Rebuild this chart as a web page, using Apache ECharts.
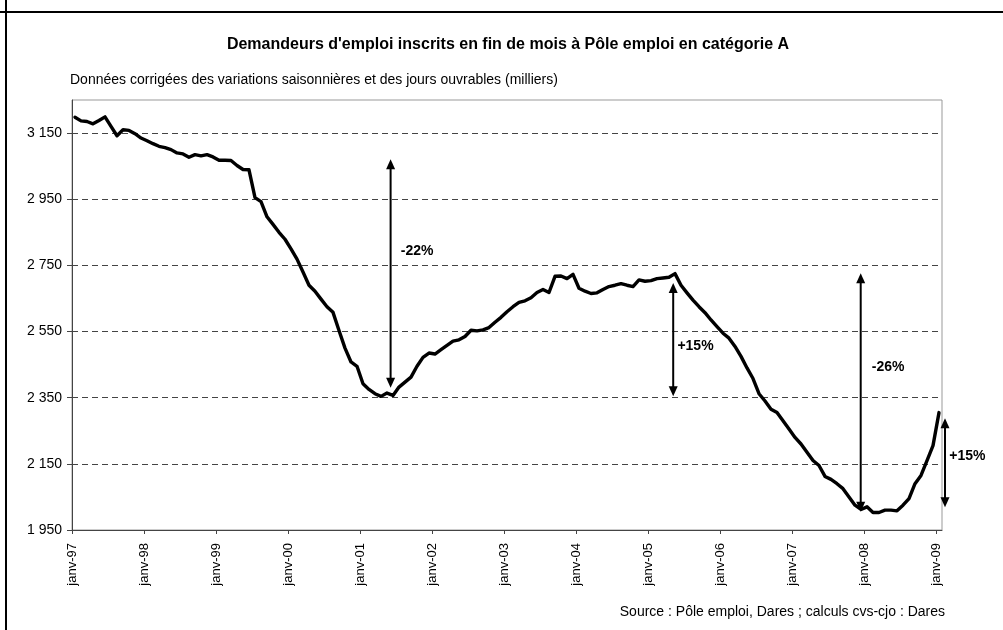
<!DOCTYPE html>
<html>
<head>
<meta charset="utf-8">
<script src="https://cdn.jsdelivr.net/npm/echarts@6/dist/echarts.min.js"></script>
<style>
html,body{margin:0;padding:0;background:#fff;}
#chart{width:1003px;height:630px;}
</style>
</head>
<body>
<div id="chart"></div>
<script>
// Monthly values, Jan 1997 .. Jan 2009 (thousands)
const values = [
  3198, 3187, 3185, 3178, 3188, 3199, 3170, 3142, 3160, 3158, 3148, 3135,
  3127, 3118, 3110, 3106, 3100, 3090, 3087, 3077, 3085, 3081, 3085, 3078,
  3068, 3068, 3067, 3052, 3040, 3039, 2955, 2943, 2897, 2874, 2850, 2829,
  2800, 2769, 2730, 2690, 2672, 2648, 2625, 2608, 2553, 2500, 2458, 2445,
  2392, 2375, 2362, 2354, 2364, 2357, 2382, 2397, 2412, 2445, 2472, 2485,
  2482, 2495, 2508, 2521, 2525, 2535, 2554, 2552, 2555, 2562, 2578, 2593,
  2610, 2625, 2638, 2643, 2652, 2668, 2677, 2668, 2717, 2718, 2710, 2723,
  2681, 2672, 2665, 2667, 2677, 2686, 2690, 2695, 2690, 2686, 2706, 2702,
  2704, 2710, 2712, 2714, 2725, 2690, 2667, 2645, 2625, 2607, 2585, 2565,
  2545, 2530, 2505, 2475, 2440, 2408, 2362, 2340, 2315, 2305, 2280, 2255,
  2230, 2210, 2185, 2160, 2145, 2112, 2103, 2090, 2075, 2050, 2025, 2012,
  2020, 2003, 2003, 2010, 2010, 2008, 2025, 2045, 2090, 2115, 2160, 2205,
  2305
];
const xTickMonths = [0, 12, 24, 36, 48, 60, 72, 84, 96, 108, 120, 132, 144];
const xTickLabels = ['janv-97','janv-98','janv-99','janv-00','janv-01','janv-02','janv-03',
                     'janv-04','janv-05','janv-06','janv-07','janv-08','janv-09'];
const yTickValues = [1950, 2150, 2350, 2550, 2750, 2950, 3150];
const yTickLabels = ['1 950','2 150','2 350','2 550','2 750','2 950','3 150'];

// Double arrows (axis position in months, lower tip, upper tip) and their labels
const arrowMonths = [53.1, 100.2, 131.45, 145.5];
const arrowLow    = [2380, 2354, 2005, 2019];
const arrowHigh   = [3071, 2697, 2726, 2288];
const noteTexts   = ['-22%', '+15%', '-26%', '+15%'];
const noteMonths  = [54.8, 100.9, 133.3, 146.2];
const noteValues  = [2792, 2505, 2443, 2174];

const FONT = '"Liberation Sans", Arial, sans-serif';
const chart = echarts.init(document.getElementById('chart'), null, {renderer:'canvas'});

const option = {
  animation: false,
  backgroundColor: '#fff',
  textStyle: {fontFamily: FONT},
  title: [
    {text: "Demandeurs d'emploi inscrits en fin de mois à Pôle emploi en catégorie A",
     left: 503, top: 32, textAlign: 'center',
     textStyle: {fontFamily: FONT, fontSize: 16, fontWeight: 'bold', color: '#000'}},
    {text: 'Données corrigées des variations saisonnières et des jours ouvrables (milliers)',
     left: 65, top: 68,
     textStyle: {fontFamily: FONT, fontSize: 14, fontWeight: 'normal', color: '#000'}},
    {text: 'Source : Pôle emploi, Dares ; calculs cvs-cjo : Dares',
     right: 53, top: 600,
     textStyle: {fontFamily: FONT, fontSize: 14, fontWeight: 'normal', color: '#000'}}
  ],
  grid: {left: 72, right: 61, top: 100, bottom: 100, show: true,
         borderColor: '#999', borderWidth: 1, backgroundColor: '#fff'},
  xAxis: {
    type: 'value', min: 0, max: 145,
    axisLine: {show: true, lineStyle: {color: '#444', width: 1}},
    axisTick: {show: true, length: 4, customValues: xTickMonths, lineStyle: {color: '#444'}},
    axisLabel: {
      customValues: xTickMonths, rotate: 90, margin: 13,
      fontFamily: FONT, fontSize: 13, color: '#000',
      formatter: function (v) { const i = xTickMonths.indexOf(Math.round(v)); return i >= 0 ? xTickLabels[i] : ''; }
    },
    splitLine: {show: false}
  },
  yAxis: {
    type: 'value', min: 1950, max: 3250, interval: 200,
    axisLine: {show: true, lineStyle: {color: '#444', width: 1}},
    axisTick: {show: true, length: 5, customValues: yTickValues, lineStyle: {color: '#444'}},
    axisLabel: {
      customValues: yTickValues, margin: 10,
      fontFamily: FONT, fontSize: 14, color: '#000',
      formatter: function (v) { const i = yTickValues.indexOf(Math.round(v)); return i >= 0 ? yTickLabels[i] : ''; }
    },
    splitLine: {show: true, lineStyle: {color: ['#444','#444','#444','#444','#444','#444','#444','transparent'],
                 type: [6, 4], width: 1}}
  },
  series: [{
    type: 'line',
    data: values.map((v, i) => [i + 0.5, v]),
    showSymbol: false,
    clip: false,
    lineStyle: {color: '#000', width: 3.4, join: 'round', cap: 'round'},
    itemStyle: {color: '#000'},
    z: 3
  }]
};
chart.setOption(option);

// Frame and annotations (positioned through the chart's own scales)
const graphics = [
  {type:'line', shape:{x1:0, y1:12, x2:1003, y2:12}, style:{stroke:'#000', lineWidth:2}},
  {type:'line', shape:{x1:6, y1:0, x2:6, y2:630}, style:{stroke:'#000', lineWidth:2}}
];
const HW = 4.5, HL = 10;
arrowMonths.forEach(function (m, i) {
  const lo = chart.convertToPixel({gridIndex: 0}, [m, arrowLow[i]]);
  const hi = chart.convertToPixel({gridIndex: 0}, [m, arrowHigh[i]]);
  const x = lo[0];
  graphics.push({type:'line', z: 10, shape:{x1:x, y1:lo[1] - HL + 1, x2:x, y2:hi[1] + HL - 1},
                 style:{stroke:'#000', lineWidth:2}});
  graphics.push({type:'polygon', z: 10, shape:{points:[[x, hi[1]], [x - HW, hi[1] + HL], [x + HW, hi[1] + HL]]},
                 style:{fill:'#000'}});
  graphics.push({type:'polygon', z: 10, shape:{points:[[x, lo[1]], [x - HW, lo[1] - HL], [x + HW, lo[1] - HL]]},
                 style:{fill:'#000'}});
});
noteTexts.forEach(function (t, i) {
  const p = chart.convertToPixel({gridIndex: 0}, [noteMonths[i], noteValues[i]]);
  graphics.push({type:'text', z: 10, x: p[0], y: p[1],
                 style:{text: t, fill:'#000', font: 'bold 14px ' + FONT,
                        textAlign:'left', textVerticalAlign:'middle'}});
});
chart.setOption({graphic: graphics});
</script>
</body>
</html>
